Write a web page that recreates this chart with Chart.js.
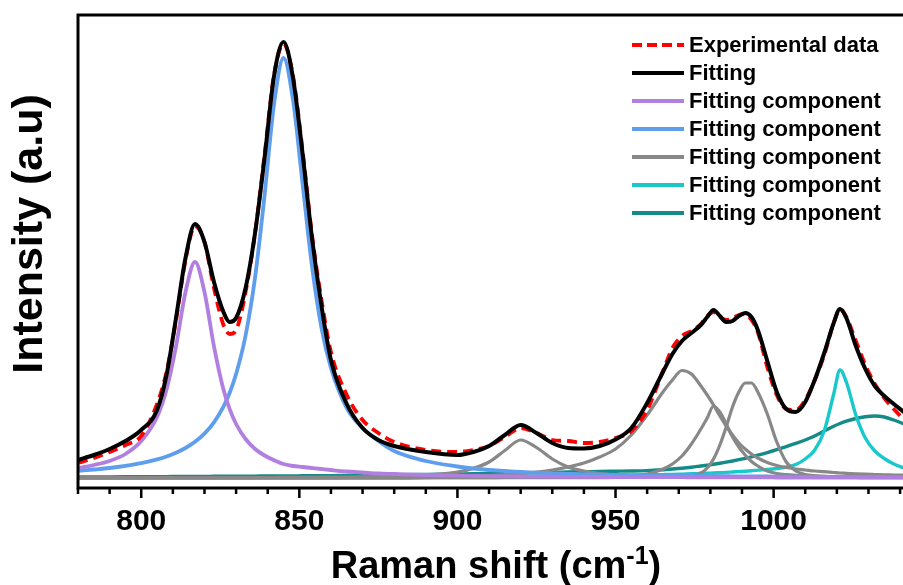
<!DOCTYPE html>
<html>
<head>
<meta charset="utf-8">
<title>Raman spectrum fit</title>
<script src="https://cdn.jsdelivr.net/npm/chart.js@4.4.1/dist/chart.umd.min.js"></script>
<style>
  html, body { margin: 0; padding: 0; background: #fff; overflow: hidden; }
  #wrap { width: 903px; height: 585px; overflow: hidden; }
  canvas { display: block; }
</style>
</head>
<body>
<div id="wrap"><canvas id="raman" width="908" height="585"></canvas></div>
<script>
// Raman shift grid (cm-1), denser around the peaks
const shift = [780, 785, 790, 795, 800, 805, 808, 811, 814, 817, 820, 823, 826, 828, 830, 833, 836, 839, 842, 845,
  848, 851, 854, 857, 860, 865, 870, 875, 880, 890, 900, 905, 910, 915, 920, 925, 930, 935, 940, 945,
  950, 955, 960, 965, 968, 971, 974, 977, 979, 981, 983, 985, 987, 989, 991, 993, 995, 998, 1001, 1004,
  1007, 1010, 1013, 1016, 1019, 1021, 1023, 1026, 1029, 1032, 1035, 1038, 1042];

// measured spectrum
const experimental = [25, 30, 36, 43, 52, 84, 116, 168, 228, 262, 246, 200, 163, 154, 158, 196, 255, 333, 413, 444,
  412, 338, 253, 188, 136, 93, 68, 55, 46, 38, 36, 38, 42, 51, 60, 55, 48, 47, 45, 46,
  50, 57, 78, 117, 140, 152, 157, 164, 172, 176, 171, 168, 170, 173, 174, 168, 156, 121, 93, 79,
  78, 88, 108, 133, 165, 179, 171, 147, 123, 104, 90, 79, 66];

// sum of all components
const fitting = [28, 33, 39, 47, 58, 78, 113, 170, 230, 264, 246, 206, 176, 166, 170, 200, 255, 330, 412, 446,
  410, 335, 250, 182, 128, 84, 60, 48, 42, 36, 33, 36, 42, 53, 63, 55, 45, 40, 39.5, 42,
  48.5, 60, 85, 116, 134, 147, 155, 163, 171, 178, 172, 166, 167, 172, 175, 171, 158, 127, 96, 79,
  76, 86, 108, 135, 165, 179, 170, 142, 119, 102, 92, 84, 74];

// fitted components
const peak817 = [20, 23, 27, 34, 47, 71, 98.5, 141.7, 196, 226, 196, 141.7, 98.5, 78.6, 64, 49, 39, 32.5, 27.8, 24,
  22, 21, 20, 19, 18, 16.5, 15.5, 14.5, 14, 13, 12.3, 12, 11.8, 11.6, 11.5, 11.4, 11.3, 11.2, 11.1, 11,
  11, 10.9, 10.9, 10.8, 10.8, 10.8, 10.7, 10.7, 10.7, 10.7, 10.7, 10.6, 10.6, 10.6, 10.6, 10.6, 10.6, 10.6, 10.5, 10.5,
  10.5, 10.5, 10.5, 10.5, 10.5, 10.5, 10.5, 10.4, 10.4, 10.4, 10.4, 10.4, 10.4];

const peak845 = [17.2, 18.5, 20, 22.1, 24.8, 28.6, 31.5, 35.3, 40, 46.2, 54.4, 65.7, 81.4, 95.5, 114, 152.5, 210.5, 292.5, 384, 430,
  388, 305, 222, 160, 120, 80, 60, 47, 37, 27, 21.5, 19.5, 18, 17, 16, 15.3, 14.7, 14.2, 13.7, 13.4,
  13.1, 12.8, 12.6, 12.4, 12.3, 12.2, 12.1, 12, 11.9, 11.9, 11.8, 11.8, 11.7, 11.7, 11.6, 11.6, 11.5, 11.5, 11.4, 11.4,
  11.3, 11.2, 11.2, 11.2, 11.1, 11.1, 11.1, 11, 11, 11, 11, 10.9, 10.9];

const peak920 = [10.2, 10.2, 10.2, 10.2, 10.2, 10.3, 10.3, 10.3, 10.3, 10.3, 10.3, 10.4, 10.4, 10.4, 10.4, 10.4, 10.5, 10.5, 10.5, 10.6,
  10.6, 10.7, 10.7, 10.8, 10.9, 11, 11.2, 11.5, 11.8, 13, 16, 19.6, 26, 37.5, 48, 40.5, 29, 21, 17, 14.5,
  13.2, 12.4, 12, 11.6, 11.4, 11.3, 11.2, 11.1, 11, 11, 11, 10.9, 10.9, 10.9, 10.8, 10.8, 10.8, 10.7, 10.7, 10.7,
  10.6, 10.6, 10.6, 10.5, 10.5, 10.5, 10.5, 10.5, 10.4, 10.4, 10.4, 10.4, 10.4];

const peak971 = [10.3, 10.3, 10.3, 10.3, 10.3, 10.3, 10.3, 10.3, 10.3, 10.3, 10.3, 10.3, 10.3, 10.3, 10.4, 10.4, 10.4, 10.4, 10.4, 10.4,
  10.4, 10.4, 10.4, 10.4, 10.4, 10.5, 10.6, 10.7, 10.8, 11, 11.5, 12, 12.5, 13.5, 14.5, 16, 18, 21, 25, 31,
  39, 53, 73, 96, 108, 117.5, 114, 102, 93, 83, 72, 62, 53, 45, 39, 34, 30, 25.5, 22.5, 20.5,
  19, 18, 17, 16.3, 15.5, 15, 14.7, 14.2, 13.8, 13.5, 13.2, 13, 12.7];

const peak981 = [10.3, 10.3, 10.3, 10.3, 10.3, 10.3, 10.3, 10.3, 10.3, 10.3, 10.3, 10.3, 10.3, 10.3, 10.3, 10.3, 10.3, 10.3, 10.3, 10.3,
  10.3, 10.3, 10.3, 10.3, 10.3, 10.3, 10.3, 10.3, 10.3, 10.3, 10.3, 10.4, 10.4, 10.5, 10.5, 10.6, 10.7, 10.8, 11, 11.3,
  11.7, 12.5, 14, 19, 24, 32, 44, 59, 70, 82, 76, 64, 51, 41, 33, 26.5, 22, 17, 14.5, 13.3,
  12.6, 12.2, 11.8, 11.6, 11.4, 11.3, 11.2, 11.1, 11.1, 11, 11, 10.9, 10.9];

const peak991 = [10.3, 10.3, 10.3, 10.3, 10.3, 10.3, 10.3, 10.3, 10.3, 10.3, 10.3, 10.3, 10.3, 10.3, 10.3, 10.3, 10.3, 10.3, 10.3, 10.3,
  10.3, 10.3, 10.3, 10.3, 10.3, 10.3, 10.3, 10.3, 10.3, 10.3, 10.3, 10.3, 10.3, 10.3, 10.3, 10.3, 10.3, 10.3, 10.3, 10.4,
  10.5, 10.6, 10.8, 11.1, 11.3, 11.6, 12.5, 15, 20, 29, 43, 61, 81, 96, 105, 105, 96, 74, 46, 26,
  17, 13.5, 12.2, 11.6, 11.3, 11.2, 11.1, 11, 10.9, 10.9, 10.8, 10.8, 10.8];

const peak1021 = [10, 10, 10, 10, 10, 10, 10, 10, 10, 10, 10, 10, 10, 10, 10, 10, 10, 10, 10, 10,
  10, 10, 10, 10, 10, 10, 10, 10, 10, 10.5, 11, 11.1, 11.2, 11.4, 11.5, 11.7, 11.8, 11.9, 12.1, 12.3,
  12.6, 12.8, 13.1, 13.4, 13.6, 13.9, 14.2, 14.5, 14.8, 15, 15.3, 15.6, 16, 16.4, 16.8, 17.3, 17.9, 18.5, 19.5, 21,
  23.5, 29, 38, 57, 94, 118, 106, 73, 50, 37, 29.5, 24, 19];

const peak1030 = [11, 11, 11.1, 11.2, 11.3, 11.4, 11.4, 11.5, 11.5, 11.6, 11.6, 11.7, 11.7, 11.8, 11.8, 11.9, 11.9, 12, 12, 12.1,
  12.1, 12.2, 12.2, 12.3, 12.4, 12.6, 12.8, 13, 13.2, 13.6, 14, 14.2, 14.5, 14.8, 15, 15.3, 15.6, 16, 16.3, 16.6,
  16.8, 17, 17.4, 18.3, 19, 19.8, 20.8, 22, 22.8, 23.7, 24.7, 25.8, 27, 28.3, 29.7, 31.2, 32.8, 35.4, 38.3, 41.4,
  44.6, 48, 52, 57, 61.8, 64.5, 66.8, 69.5, 71.3, 72, 71, 68, 63];

const xTicks = { min: 780, max: 1042.5, minorStep: 10, majorStep: 50 };
const FONT = 'Liberation Sans, Arial, sans-serif';

function pts(values) {
  return shift.map((x, i) => ({ x: x, y: values[i] }));
}

function line(label, values, color, order, width, extra) {
  return Object.assign({
    label: label,
    data: pts(values),
    borderColor: color,
    backgroundColor: color,
    borderWidth: width,
    pointRadius: 0,
    fill: false,
    cubicInterpolationMode: 'monotone',
    order: order
  }, extra || {});
}

const datasets = [
  line('Experimental data', experimental, '#ff0000', 1, 3.8, { borderDash: [10, 6] }),
  line('Fitting', fitting, '#000000', 0, 4),
  line('Fitting component', peak817, '#b07fe0', 2, 3.8),
  line('Fitting component', peak845, '#5f9ded', 3, 3.8),
  line('Fitting component', peak920, '#888888', 4, 3.2),
  line('Fitting component', peak971, '#888888', 4, 3.2),
  line('Fitting component', peak981, '#888888', 4, 3.2),
  line('Fitting component', peak991, '#888888', 4, 3.2),
  line('Fitting component', peak1021, '#19c8cb', 5, 3.4),
  line('Fitting component', peak1030, '#148b88', 6, 3.4)
];

// legend rows: one entry per colour
const legendRows = [0, 1, 2, 3, 4, 8, 9];

const framePlugin = {
  id: 'frame',
  afterDraw(chart) {
    const { ctx, chartArea: a, scales } = chart;
    const xs = scales.x;
    ctx.save();
    ctx.strokeStyle = '#000';
    ctx.lineWidth = 3;
    ctx.beginPath();
    ctx.moveTo(a.left, a.bottom);
    ctx.lineTo(a.left, a.top);
    ctx.lineTo(a.right + 5, a.top);
    ctx.moveTo(a.left - 1.5, a.bottom);
    ctx.lineTo(a.right + 5, a.bottom);
    ctx.stroke();

    // tick marks below the axis
    ctx.lineWidth = 2.5;
    ctx.beginPath();
    xs.ticks.forEach(t => {
      if (t.value % xTicks.minorStep !== 0) return;
      const px = xs.getPixelForValue(t.value);
      const len = t.value % xTicks.majorStep === 0 ? 10 : 6;
      ctx.moveTo(px, a.bottom);
      ctx.lineTo(px, a.bottom + len);
    });
    ctx.stroke();

    // axis titles
    ctx.fillStyle = '#000';
    ctx.save();
    ctx.translate(30, 234);
    ctx.rotate(-Math.PI / 2);
    ctx.font = 'bold 43px ' + FONT;
    ctx.textAlign = 'center';
    ctx.textBaseline = 'middle';
    ctx.fillText('Intensity (a.u)', 0, 0);
    ctx.restore();

    const main = 'Raman shift (cm', sup = '-1', tail = ')';
    ctx.textBaseline = 'alphabetic';
    ctx.textAlign = 'left';
    ctx.font = 'bold 38px ' + FONT;
    const w1 = ctx.measureText(main).width, w3 = ctx.measureText(tail).width;
    ctx.font = 'bold 25px ' + FONT;
    const w2 = ctx.measureText(sup).width;
    let x0 = 496 - (w1 + w2 + w3) / 2;
    ctx.font = 'bold 38px ' + FONT;
    ctx.fillText(main, x0, 578);
    ctx.font = 'bold 25px ' + FONT;
    ctx.fillText(sup, x0 + w1, 564);
    ctx.font = 'bold 38px ' + FONT;
    ctx.fillText(tail, x0 + w1 + w2, 578);

    // legend
    ctx.font = 'bold 22px ' + FONT;
    ctx.textBaseline = 'middle';
    legendRows.forEach((di, r) => {
      const ds = chart.data.datasets[di];
      const y = 45 + r * 28;
      ctx.strokeStyle = ds.borderColor;
      ctx.lineWidth = 4;
      ctx.setLineDash(ds.borderDash ? [10, 5] : []);
      ctx.beginPath();
      ctx.moveTo(632, y);
      ctx.lineTo(684, y);
      ctx.stroke();
      ctx.setLineDash([]);
      ctx.fillText(ds.label, 689, y + 1);
    });
    ctx.restore();
  }
};

new Chart(document.getElementById('raman'), {
  type: 'line',
  data: { datasets: datasets },
  options: {
    responsive: false,
    animation: false,
    devicePixelRatio: 1,
    layout: { padding: { left: 78, top: 15, right: 0, bottom: 0 } },
    plugins: { legend: { display: false }, tooltip: { enabled: false } },
    scales: {
      x: {
        type: 'linear',
        min: xTicks.min,
        max: xTicks.max,
        grid: { display: false, drawTicks: false },
        border: { display: false },
        ticks: {
          stepSize: xTicks.minorStep,
          includeBounds: false,
          autoSkip: false,
          maxRotation: 0,
          padding: 16,
          color: '#000',
          font: { family: FONT, size: 30, weight: 'bold' },
          callback: v => (v % xTicks.majorStep === 0 ? String(v) : '')
        },
        afterFit: s => {
          s.height = 97;
          s.paddingLeft = 0;
          s.paddingRight = 0;
        }
      },
      y: {
        display: false,
        min: 0,
        max: 473
      }
    }
  },
  plugins: [framePlugin]
});
</script>
</body>
</html>
